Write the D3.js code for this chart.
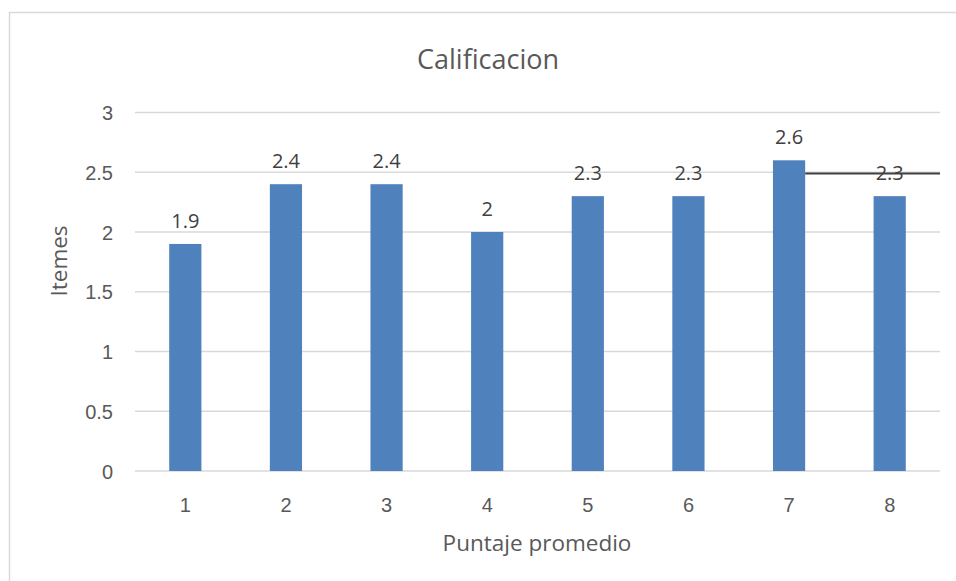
<!DOCTYPE html>
<html>
<head>
<meta charset="utf-8">
<script src="https://cdn.jsdelivr.net/npm/d3@7"></script>
<style>
  html, body { margin: 0; padding: 0; background: #fff; }
  svg { display: block; font-family: "Open Sans", "Noto Sans", sans-serif; }
</style>
</head>
<body>
<svg id="chart" width="956" height="581"></svg>
<script>
// Average score per item
const categories = ["1", "2", "3", "4", "5", "6", "7", "8"];
const values = [1.9, 2.4, 2.4, 2, 2.3, 2.3, 2.6, 2.3];
const yTicks = [0, 0.5, 1, 1.5, 2, 2.5, 3];
const titleText = "Calificacion";
const xTitle = "Puntaje promedio";
const yTitle = "Itemes";
// Horizontal marker running right from the 7th bar
const markerValue = 2.49;
const markerFrom = "7";

const svg = d3.select("#chart");
const W = 956, H = 581;
const plot = { left: 135, right: 940, top: 112.5, bottom: 471 };

// Chart frame
svg.append("rect")
  .attr("x", 9.5).attr("y", 12.5)
  .attr("width", W).attr("height", H)
  .attr("fill", "#fff").attr("stroke", "#d9d9d9").attr("stroke-width", 1.5);

const x = d3.scaleBand().domain(categories).range([plot.left, plot.right]).paddingInner(0.68).paddingOuter(0.34);
const y = d3.scaleLinear().domain([0, 3]).range([plot.bottom, plot.top]);

// Gridlines
svg.append("g").selectAll("line").data(yTicks).join("line")
  .attr("x1", plot.left).attr("x2", plot.right)
  .attr("y1", d => y(d)).attr("y2", d => y(d))
  .attr("stroke", "#d9d9d9").attr("stroke-width", 1.5);

// Y axis labels
const yAxis = svg.append("g").attr("transform", `translate(${plot.left - 22},0)`)
  .call(d3.axisLeft(y).tickValues(yTicks).tickFormat(d3.format("")).tickSize(0).tickPadding(0));
yAxis.select(".domain").remove();
yAxis.selectAll("text").attr("fill", "#595959").attr("font-size", 20).attr("dy", "0.36em");

// X axis labels
const xAxis = svg.append("g").attr("transform", `translate(0,${plot.bottom})`)
  .call(d3.axisBottom(x).tickSize(0).tickPadding(0));
xAxis.select(".domain").remove();
xAxis.selectAll("text").attr("fill", "#595959").attr("font-size", 20).attr("dy", "0").attr("y", 41);

// Bars
svg.append("g").selectAll("rect").data(values).join("rect")
  .attr("x", (d, i) => x(categories[i]))
  .attr("y", d => y(d))
  .attr("width", x.bandwidth())
  .attr("height", d => y(0) - y(d))
  .attr("fill", "#4f81bd");

// Value labels
svg.append("g").selectAll("text").data(values).join("text")
  .attr("x", (d, i) => x(categories[i]) + x.bandwidth() / 2)
  .attr("y", d => y(d) - 16)
  .attr("text-anchor", "middle")
  .attr("fill", "#404040").attr("font-size", 20)
  .text(d => String(d));

// Marker line
svg.append("line")
  .attr("x1", x(markerFrom) + x.bandwidth()).attr("x2", plot.right)
  .attr("y1", y(markerValue)).attr("y2", y(markerValue))
  .attr("stroke", "#404040").attr("stroke-width", 2);

// Titles
svg.append("text").attr("x", 488).attr("y", 69).attr("text-anchor", "middle")
  .attr("fill", "#595959").attr("font-size", 27).text(titleText);
svg.append("text").attr("x", 537).attr("y", 551).attr("text-anchor", "middle")
  .attr("fill", "#595959").attr("font-size", 22.5).text(xTitle);
svg.append("text").attr("transform", "translate(67,261) rotate(-90)").attr("text-anchor", "middle")
  .attr("fill", "#595959").attr("font-size", 22.5).text(yTitle);
</script>
</body>
</html>
